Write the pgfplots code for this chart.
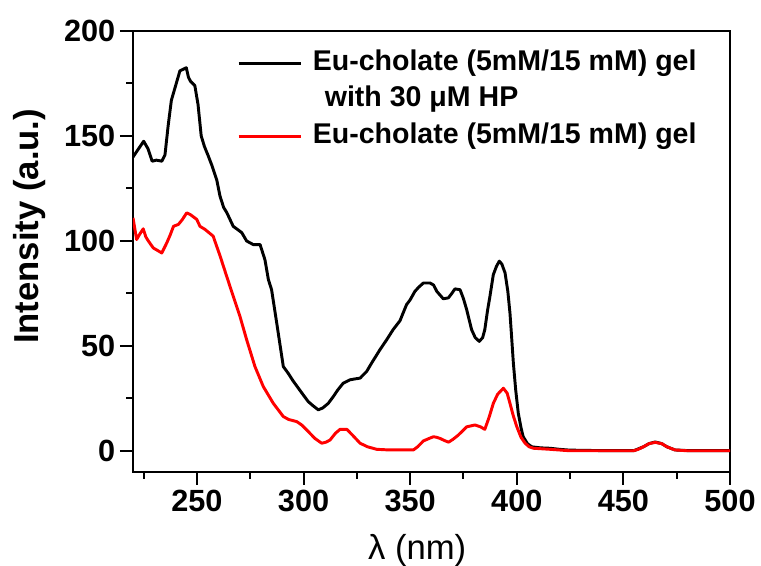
\documentclass[border=0pt]{standalone}
\usepackage{pgfplots}
\pgfplotsset{compat=1.18}
\usepackage{fontspec}
\setmainfont{Liberation Sans}
\pgfplotstableread{
x y
220 140
222 143
225 147.5
227 144
229 138
231 138.5
233.5 138
235 141
236.5 155
238 167
240 174
242 181
244 182
245 182.5
246 178
247 176
249 174
250.5 165
252 150
253.5 145
255.3 140.5
257 136
259.3 129
260.8 121.4
262.5 116
264 113.5
267 107
271 104
273.3 100
276.4 98.3
279.6 98.3
281.9 91
283.5 81.6
285 76.8
287.4 61
290.5 40.2
292.8 37
295 33.5
297.5 30
300 26.5
302.2 23.5
304.5 21.5
306.9 19.6
309 20.5
311.6 22.7
314 26
316 29
318.6 32.3
321.8 33.9
324 34.3
326.5 34.7
329.6 37.9
332 42
335.8 48.2
339 53
342 57.8
345.2 62
348.3 69.7
350 72
352.2 76
354 78
356.2 80
359.3 80
361 79
362.5 76
365.5 72.5
367.9 72.9
369.5 75
371 77.2
373.4 76.8
375 72.5
376.5 67.3
378.8 57.8
380.5 54
382.4 52.2
384 54
385 57.8
386.3 67
387.4 73.6
389 84
390.5 88
391.8 90.4
393 89
394.5 84.8
395.8 76
396.8 65.7
397.6 54
398.4 41.8
399.5 29
400.7 18
402 11
403 6.8
405 3.5
407 2
411 1.5
415.6 1.3
420 0.8
423.5 0.5
430 0.3
440 0.2
455 0.2
459.4 2
462 3.5
464.9 4.3
468 3.5
470.4 2
474.2 0.5
480 0.2
490 0.2
500 0.2
}\blackdata
\pgfplotstableread{
x y
220 111
221.7 100.7
223 103
224.8 105.8
226 102
227.2 100
229.5 96.7
231.5 95.5
233.5 94.3
235.8 99
237.5 103
239 107
241.3 107.9
243 110
245.2 113.4
247 112.5
249.9 110.3
251.4 107
253.8 105.5
257.6 102.3
260.8 93
264 83
267 73.7
270.2 64
273.3 53
277.2 40.2
281.1 30.7
285.8 22.7
290.5 16.4
293 15
296.8 14
299.1 12.4
301.5 10
305.3 6
308.5 3.7
310.5 4.2
312.4 5.2
315 8.5
317.1 10.3
320.3 10.3
323 7.5
326.5 3.7
330 2
334.3 0.8
340 0.5
351.5 0.5
353.5 2
356.2 4.8
358.5 5.8
360.9 6.8
362.5 6.5
364 6
366 5
368 4.2
370 5.5
372.5 7.5
376.5 11.5
380.4 12.4
383 11.5
385 10.3
387 16
389 22.7
391 27
393.7 29.9
395.5 27.5
396.8 22.7
398.3 17
400 11.6
402 6.5
403.9 3.7
405.8 2
407.8 1.3
415.6 0.8
425 0.1
454.7 0.1
457 0.8
459.4 2
462 3.5
464.9 4.1
468 3.5
470.4 2
474.2 0.5
480 0.1
500 0.1
}\reddata
\begin{document}
\begin{tikzpicture}
\useasboundingbox (-99.75pt,-70.5pt) rectangle (471pt,354pt);
\begin{axis}[
  scale only axis,
  width=447.75pt, height=330.75pt,
  xmin=220, xmax=500, ymin=-10, ymax=200,
  xtick={250,300,...,500}, ytick={0,50,...,200},
  minor xtick={225,275,...,475}, minor ytick={25,75,...,175},
  xtick pos=bottom, ytick pos=left,
  tick align=outside,
  major tick length=9.75pt, minor tick length=5pt,
  every tick/.style={line width=1.5pt, black},
  axis line style={line width=1.5pt},
  ticklabel style={font=\fontsize{23}{23}\selectfont\bfseries},
  /pgf/number format/assume math mode=true,
  xlabel={λ (nm)},
  ylabel={\bfseries Intensity (a.u.)},
  xlabel style={font=\fontsize{26}{26}\selectfont, at={(axis description cs:0.476,-0.177)}, anchor=center},
  ylabel style={font=\fontsize{26}{26}\selectfont, at={(axis description cs:-0.1725,0.557)}, anchor=center},
  legend style={draw=none, fill=none, inner sep=0pt, column sep=7.5pt, row sep=7.4pt,
    at={(axis description cs:0.1742,0.957)}, anchor=north west,
    font=\fontsize{21.4}{21.4}\selectfont\bfseries,
    nodes={inner sep=0pt, text height=15pt, text depth=5pt}},
  legend cell align=left,
  legend image code/.code={\draw[#1] (0pt,0pt) -- (47pt,0pt);},
]
\addplot[black, line width=2.2pt, line join=round] table[x=x,y=y] {\blackdata};
\addlegendentry{Eu-cholate (5mM/15 mM) gel}
\addlegendimage{empty legend}
\addlegendentry{\hspace{9pt}with 30 μM HP}
\addplot[red, line width=2.2pt, line join=round] table[x=x,y=y] {\reddata};
\addlegendentry{Eu-cholate (5mM/15 mM) gel}
\end{axis}
\end{tikzpicture}
\end{document}
